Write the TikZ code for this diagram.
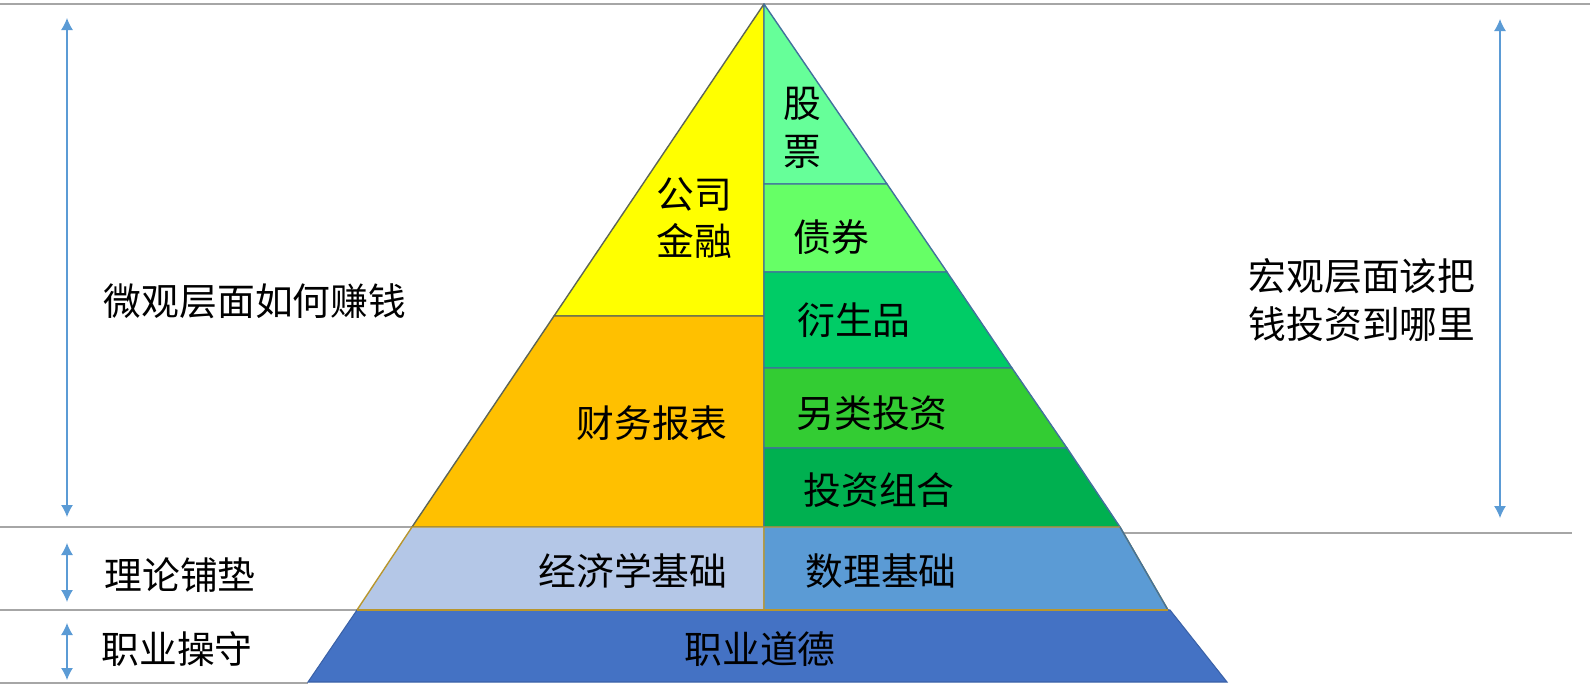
\documentclass[tikz,border=0pt]{standalone}
\usepackage{fontspec}
\newfontfamily\cjk{Noto Sans CJK SC}
\usepackage{tikz}
\usetikzlibrary{arrows.meta}
\usetikzlibrary{positioning}

\definecolor{guide}{HTML}{A6A6A6}
\definecolor{spanblue}{HTML}{5B9BD5}
\definecolor{edgeblue}{HTML}{41719C}
\definecolor{edgeolive}{HTML}{5E6656}
\definecolor{edgegold}{HTML}{B8962E}
\definecolor{cyellow}{HTML}{FFFF00}
\definecolor{corange}{HTML}{FFC000}
\definecolor{cstock}{HTML}{66FF99}
\definecolor{cbond}{HTML}{66FF66}
\definecolor{cderiv}{HTML}{00CC66}
\definecolor{calt}{HTML}{33CC33}
\definecolor{cport}{HTML}{00B050}
\definecolor{cecon}{HTML}{B4C7E7}
\definecolor{cmath}{HTML}{5B9BD5}
\definecolor{cethic}{HTML}{4472C4}

\tikzset{
  label/.style={font=\cjk\fontsize{21.5}{27}\selectfont, align=center, inner sep=0pt},
  guideline/.style={draw=guide, line width=1.1pt},
  span/.style={draw=spanblue, line width=0.7pt, {Latex[length=0.24cm,width=0.24cm]}-{Latex[length=0.24cm,width=0.24cm]}},
  leftpart/.style={draw=edgeolive, line width=0.8pt, line join=round},
  rightpart/.style={draw=edgeblue, line width=0.8pt, line join=round},
  basepart/.style={draw=edgegold, line width=0.8pt, line join=round}
}

\begin{document}
\begin{tikzpicture}[x=0.02cm, y=-0.02cm]
        \useasboundingbox (0,0) rectangle (1590,697);
        % guide lines
        \draw[guideline] (0,4) -- (1590,4);
        \draw[guideline] (0,527) -- (413,527);
        \draw[guideline] (1118,533) -- (1572,533);
        \draw[guideline] (0,610) -- (357,610);
        \draw[guideline] (0,683) -- (308,683);

        % left column
        \filldraw[leftpart, fill=cyellow] (764,4) -- (554,316) -- (764,316) -- cycle;
        \filldraw[leftpart, fill=corange] (554,316) -- (412,527) -- (764,527) -- (764,316) -- cycle;
        % right column
        \filldraw[rightpart, fill=cstock] (764,4) -- (887,184) -- (764,184) -- cycle;
        \filldraw[rightpart, fill=cbond] (764,184) -- (887,184) -- (947,272) -- (764,272) -- cycle;
        \filldraw[rightpart, fill=cderiv] (764,272) -- (947,272) -- (1012,368) -- (764,368) -- cycle;
        \filldraw[rightpart, fill=calt] (764,368) -- (1012,368) -- (1067,448) -- (764,448) -- cycle;
        \filldraw[rightpart, fill=cport] (764,448) -- (1067,448) -- (1120,527) -- (764,527) -- cycle;
        % base layers
        \filldraw[basepart, fill=cecon] (412,527) -- (357,610) -- (764,610) -- (764,527) -- cycle;
        \filldraw[basepart, fill=cmath] (764,527) -- (1120,527) -- (1168,610) -- (764,610) -- cycle;
        \draw[draw=edgeblue, line width=0.8pt] (1120,527) -- (1168,610);
        \filldraw[draw=cethic!85!black, line width=0.6pt, fill=cethic] (357,610) -- (308,682) -- (1227,682) -- (1170,610) -- cycle;
        \draw[draw=edgegold, line width=0.8pt] (357,610) -- (1168,610);

        % layer labels
        \node[label] (corp) at (694,218) {公司\\金融};
        \node[label] (stmt) at (652,423) {财务报表};
        \node[label] (stock) at (802,128) {股\\票};
        \node[label] (bond) at (831,237) {债券};
        \node[label] (deriv) at (854,320) {衍生品};
        \node[label] (alt) at (872,413) {另类投资};
        \node[label] (port) at (879,490) {投资组合};
        \node[label] (econ) at (633,571) {经济学基础};
        \node[label] (math) at (881,571) {数理基础};
        \node[label] (ethic) at (760,649) {职业道德};

        % side labels
        \node[label] (micro) at (255,301) {微观层面如何赚钱};
        \node[label] (macro) at (1362,300) {宏观层面该把\\钱投资到哪里};
        \node[label] (theory) at (180,575) {理论铺垫};
        \node[label] (conduct) at (177,649) {职业操守};

        % spans
        \coordinate (mt) at (67,18);
        \coordinate (mb) at (67,517);
        \coordinate (tt) at (67,543);
        \coordinate (tb) at (67,602);
        \coordinate (ct) at (67,623);
        \coordinate (cb) at (67,680);
        \coordinate (rt) at (1500,19);
        \coordinate (rb) at (1500,518);
        \draw[span] (mt) -- (mb);
        \draw[span] (tt) -- (tb);
        \draw[span] (ct) -- (cb);
        \draw[span] (rt) -- (rb);
\end{tikzpicture}
\end{document}
